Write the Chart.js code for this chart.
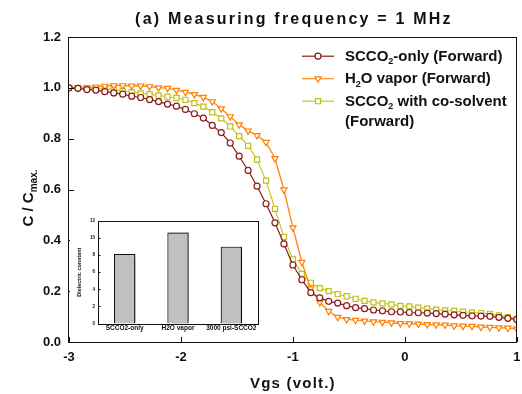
<!DOCTYPE html>
<html>
<head>
<meta charset="utf-8">
<script src="https://cdn.jsdelivr.net/npm/chart.js@4"></script>
<style>
body{margin:0;background:#fff}
#wrap{position:relative;width:522px;height:394px}
#inset{position:absolute;left:70px;top:213px}
</style>
</head>
<body>
<div id="wrap">
<canvas id="chartCV" width="522" height="394"></canvas>
<canvas id="inset" width="192" height="124"></canvas>
</div>
<script>
// Vgs sweep (volt.)
const vgs = [-3.00,-2.92,-2.84,-2.76,-2.68,-2.60,-2.52,-2.44,-2.36,-2.28,-2.20,-2.12,-2.04,-1.96,-1.88,-1.80,-1.72,-1.64,-1.56,-1.48,-1.40,-1.32,-1.24,-1.16,-1.08,-1.00,-0.92,-0.84,-0.76,-0.68,-0.60,-0.52,-0.44,-0.36,-0.28,-0.20,-0.12,-0.04,0.04,0.12,0.20,0.28,0.36,0.44,0.52,0.60,0.68,0.76,0.84,0.92,1.00];

// C / Cmax
const scco2Only = [1.0,0.998,0.993,0.991,0.985,0.980,0.975,0.967,0.962,0.954,0.946,0.936,0.928,0.915,0.898,0.881,0.852,0.824,0.783,0.731,0.675,0.613,0.544,0.469,0.386,0.303,0.245,0.194,0.174,0.160,0.153,0.143,0.135,0.131,0.126,0.123,0.119,0.118,0.116,0.115,0.114,0.112,0.110,0.107,0.105,0.103,0.102,0.101,0.097,0.093,0.089];
const h2oVapor = [1.0,1.0,1.001,1.004,1.007,1.009,1.009,1.008,1.008,1.005,1.001,0.999,0.991,0.983,0.974,0.963,0.946,0.918,0.887,0.855,0.831,0.813,0.786,0.722,0.599,0.450,0.314,0.210,0.156,0.121,0.098,0.089,0.086,0.083,0.080,0.078,0.076,0.073,0.072,0.071,0.069,0.068,0.067,0.064,0.063,0.062,0.059,0.058,0.056,0.055,0.052];
const coSolvent = [1.0,1.0,0.999,0.999,0.996,0.993,0.988,0.983,0.978,0.975,0.970,0.965,0.960,0.953,0.940,0.926,0.904,0.880,0.848,0.810,0.772,0.718,0.635,0.524,0.413,0.325,0.268,0.233,0.212,0.200,0.188,0.180,0.170,0.162,0.156,0.152,0.148,0.142,0.140,0.135,0.131,0.127,0.124,0.122,0.119,0.116,0.114,0.111,0.105,0.098,0.091];

const xTicks = [-3, -2, -1, 0, 1];
const yTicks = [0, 0.2, 0.4, 0.6, 0.8, 1.0, 1.2];

// inset
const insetLabels = ['SCCO2-only', 'H2O vapor', '3000 psi-SCCO2'];
const dielectric = [8.15, 10.65, 9.0];
const insetTicks = [0, 2, 4, 6, 8, 10, 12];

const FONT = 'Arial, "Liberation Sans", sans-serif';
const INK = '#111';

function pts(ys) {
  return ys.map((y, i) => ({x: vgs[i], y: y}));
}

// text with subscripts: parts = [[text, isSub], ...]
function richWidth(ctx, parts, size, subSize) {
  let w = 0;
  parts.forEach(p => {
    ctx.font = 'bold ' + (p[1] ? subSize : size) + 'px ' + FONT;
    w += ctx.measureText(p[0]).width;
  });
  return w;
}
function drawRich(ctx, x, y, parts, size, subSize, subDrop) {
  ctx.textAlign = 'left';
  ctx.textBaseline = 'alphabetic';
  parts.forEach(p => {
    ctx.font = 'bold ' + (p[1] ? subSize : size) + 'px ' + FONT;
    ctx.fillText(p[0], x, p[1] ? y + subDrop : y);
    x += ctx.measureText(p[0]).width;
  });
}

const legendRows = [
  {ds: 0, lines: [[['SCCO', false], ['2', true], ['-only (Forward)', false]]]},
  {ds: 1, lines: [[['H', false], ['2', true], ['O vapor (Forward)', false]]]},
  {ds: 2, lines: [[['SCCO', false], ['2', true], [' with co-solvent', false]], [['(Forward)', false]]]}
];

const decor = {
  id: 'decor',
  afterDraw(chart) {
    const ctx = chart.ctx;
    const a = chart.chartArea;
    const xs = chart.scales.x, ys = chart.scales.y;
    ctx.save();
    // frame
    ctx.strokeStyle = INK;
    ctx.lineWidth = 1;
    ctx.strokeRect(Math.round(a.left) - 0.5, Math.round(a.top) + 0.5, Math.round(a.right - a.left), Math.round(a.bottom - a.top));
    // inside ticks
    ctx.beginPath();
    xTicks.forEach(v => {
      const px = Math.round(xs.getPixelForValue(v)) + 0.5;
      ctx.moveTo(px, a.bottom);
      ctx.lineTo(px, a.bottom - 5);
    });
    yTicks.forEach(v => {
      const py = Math.round(ys.getPixelForValue(v)) + 0.5;
      ctx.moveTo(a.left, py);
      ctx.lineTo(a.left + 5, py);
    });
    ctx.stroke();

    ctx.fillStyle = INK;
    // title
    ctx.letterSpacing = '2.2px';
    ctx.font = 'bold 16px ' + FONT;
    ctx.textAlign = 'center';
    ctx.textBaseline = 'middle';
    ctx.fillText('(a) Measuring frequency = 1 MHz', (a.left + a.right) / 2 + 1, 20);
    // x title
    ctx.letterSpacing = '1.2px';
    ctx.font = 'bold 15px ' + FONT;
    ctx.fillText('Vgs (volt.)', (a.left + a.right) / 2, 384);
    ctx.letterSpacing = '0px';

    // y title, rotated with subscript
    ctx.save();
    ctx.translate(27.5, 198);
    ctx.rotate(-Math.PI / 2);
    const yParts = [['C / C', false], ['max.', true]];
    const w = richWidth(ctx, yParts, 15, 10);
    drawRich(ctx, -w / 2, 5.5, yParts, 15, 10, 4);
    ctx.restore();

    // legend
    let base = 60.7;
    legendRows.forEach(row => {
      const ds = chart.data.datasets[row.ds];
      const ly = base - 4.5;
      ctx.strokeStyle = ds.borderColor;
      ctx.lineWidth = 1.2;
      ctx.beginPath();
      ctx.moveTo(302, ly);
      ctx.lineTo(334, ly);
      ctx.stroke();
      ctx.fillStyle = '#fff';
      ctx.strokeStyle = ds.pointBorderColor;
      ctx.lineWidth = ds.pointBorderWidth;
      Chart.helpers.drawPoint(ctx, {
        pointStyle: ds.pointStyle, radius: ds.pointRadius,
        rotation: ds.pointRotation || 0, borderWidth: ds.pointBorderWidth
      }, 318, ly);
      ctx.fillStyle = INK;
      row.lines.forEach((ln, k) => {
        drawRich(ctx, 345, base + k * 19.8, ln, 15, 9, 3.5);
      });
      base += 22.5 + (row.lines.length - 1) * 19.8;
    });
    ctx.restore();
  }
};

new Chart(document.getElementById('chartCV'), {
  type: 'line',
  data: {
    datasets: [{
      label: 'SCCO2-only (Forward)',
      data: pts(scco2Only),
      borderColor: '#8b1a1a',
      borderWidth: 1.2,
      pointStyle: 'circle',
      pointRadius: 3,
      pointBorderWidth: 1.2,
      pointBackgroundColor: '#fff',
      pointBorderColor: '#8b1a1a'
    }, {
      label: 'H2O vapor (Forward)',
      data: pts(h2oVapor),
      borderColor: '#ff8c1a',
      borderWidth: 1.4,
      pointStyle: 'triangle',
      pointRotation: 180,
      pointRadius: 3.6,
      pointBorderWidth: 1.2,
      pointBackgroundColor: '#fff',
      pointBorderColor: '#ff7f00'
    }, {
      label: 'SCCO2 with co-solvent (Forward)',
      data: pts(coSolvent),
      borderColor: '#c8c81e',
      borderWidth: 1.2,
      pointStyle: 'rect',
      pointRadius: 3.6,
      pointBorderWidth: 1.2,
      pointBackgroundColor: '#fff',
      pointBorderColor: '#c0c010'
    }]
  },
  options: {
    responsive: false,
    animation: false,
    layout: {padding: {top: 37, right: 1, left: 0, bottom: 0}},
    scales: {
      x: {
        type: 'linear', min: -3, max: 1,
        grid: {display: false, drawTicks: false},
        border: {display: false},
        ticks: {stepSize: 1, padding: 8, color: INK, font: {family: FONT, size: 13, weight: 'bold'}},
        afterFit: s => { s.height = 52; s.paddingLeft = 0; s.paddingRight = 0; }
      },
      y: {
        min: 0, max: 1.2,
        grid: {display: false, drawTicks: false},
        border: {display: false},
        ticks: {stepSize: 0.2, padding: 8, color: INK, font: {family: FONT, size: 13, weight: 'bold'},
          callback: v => v.toFixed(1)},
        afterFit: s => { s.width = 69; s.paddingTop = 0; s.paddingBottom = 0; }
      }
    },
    plugins: {legend: {display: false}, title: {display: false}, tooltip: {enabled: false}}
  },
  plugins: [decor]
});

const insetDecor = {
  id: 'insetDecor',
  beforeDraw(chart) {
    const ctx = chart.ctx;
    ctx.save();
    ctx.fillStyle = '#fff';
    ctx.fillRect(0, 0, chart.width, chart.height);
    ctx.restore();
  },
  beforeDatasetsDraw(chart) {
    const ctx = chart.ctx;
    ctx.save();
    ctx.shadowColor = 'rgba(0,0,0,0.45)';
    ctx.shadowOffsetX = 1.5;
    ctx.shadowOffsetY = 0;
    ctx.shadowBlur = 1;
  },
  afterDatasetsDraw(chart) {
    chart.ctx.restore();
  },
  afterDraw(chart) {
    const ctx = chart.ctx;
    const a = chart.chartArea;
    const ys = chart.scales.y;
    ctx.save();
    ctx.strokeStyle = INK;
    ctx.lineWidth = 1;
    ctx.strokeRect(Math.round(a.left) + 0.5, Math.round(a.top) + 0.5, Math.round(a.right - a.left), Math.round(a.bottom - a.top));
    ctx.beginPath();
    insetTicks.forEach(v => {
      const py = Math.round(ys.getPixelForValue(v)) + 0.5;
      ctx.moveTo(a.left, py);
      ctx.lineTo(a.left + 2.5, py);
    });
    ctx.stroke();
    ctx.restore();
  }
};

new Chart(document.getElementById('inset'), {
  type: 'bar',
  data: {
    labels: insetLabels,
    datasets: [{
      data: dielectric,
      backgroundColor: '#c0c0c0',
      borderColor: '#111',
      borderWidth: 1.2,
      barPercentage: 0.4,
      categoryPercentage: 1
    }]
  },
  options: {
    responsive: false,
    animation: false,
    layout: {padding: {top: 8, right: 4, left: 0, bottom: 0}},
    scales: {
      x: {
        grid: {display: false, drawTicks: false},
        border: {display: false},
        ticks: {padding: 1, autoSkip: false, maxRotation: 0, color: INK, font: {family: FONT, size: 6.5, weight: 'bold'}},
        afterFit: s => { s.height = 13.5; s.paddingLeft = 0; s.paddingRight = 0; }
      },
      y: {
        min: 0, max: 12,
        grid: {display: false, drawTicks: false},
        border: {display: false},
        ticks: {stepSize: 2, padding: 3, color: INK, font: {family: FONT, size: 4.5, weight: 'bold'}},
        title: {display: true, text: 'Dielectric constant', color: INK, padding: {top: 6, bottom: 0},
          font: {family: FONT, size: 5.5, weight: 'bold'}},
        afterFit: s => { s.width = 28; s.paddingTop = 0; s.paddingBottom = 0; }
      }
    },
    plugins: {legend: {display: false}, tooltip: {enabled: false}}
  },
  plugins: [insetDecor]
});
</script>
</body>
</html>
